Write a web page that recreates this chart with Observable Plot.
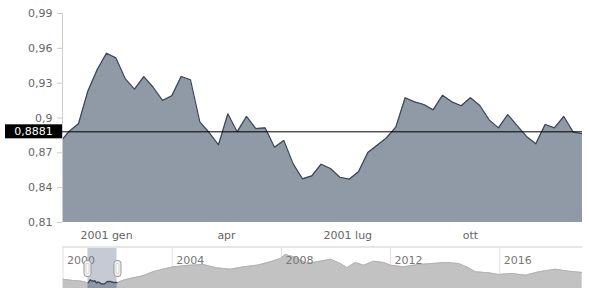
<!DOCTYPE html>
<html>
<head>
<meta charset="utf-8">
<script src="https://cdn.jsdelivr.net/npm/d3@7"></script>
<script src="https://cdn.jsdelivr.net/npm/@observablehq/plot@0.6"></script>
<style>
  html, body { margin: 0; padding: 0; background: #fff; }
  #chart svg { display: block; }
</style>
</head>
<body>
<div id="chart"></div>
<script>
// ---- Main series (weekly, EUR/USD style rate) ----
const mainStart = "2000-11-27";
const mainValues = [
  0.879, 0.8885, 0.8950, 0.9231, 0.9415, 0.9558, 0.9518, 0.9340, 0.9248, 0.9357,
  0.9265, 0.9151, 0.9191, 0.9357, 0.9329, 0.8967, 0.8875, 0.8769, 0.9036, 0.8881,
  0.9013, 0.8909, 0.8915, 0.8749, 0.8806, 0.8605, 0.8476, 0.8502, 0.8602, 0.8565,
  0.8490, 0.8473, 0.8537, 0.8703, 0.8766, 0.8829, 0.8921, 0.9174, 0.9139, 0.9116,
  0.9070, 0.9196, 0.9139, 0.9105, 0.9174, 0.9108, 0.8984, 0.8915, 0.9030, 0.8935,
  0.8841, 0.8778, 0.8944, 0.8915, 0.9013, 0.8878, 0.8864
];
const xDomain = ["2000-11-29", "2001-12-24"];
const yDomain = [0.81, 0.99];
const yTicks = [0.81, 0.84, 0.87, 0.90, 0.93, 0.96, 0.99];
const xTicks = ["2001-01-01", "2001-04-01", "2001-07-01", "2001-10-01"];
const xTickLabels = ["2001 gen", "apr", "2001 lug", "ott"];
const refValue = 0.8881;

// ---- Navigator series (long history) ----
const navBeforeDates = ["2000-01-03", "2000-03-15", "2000-05-15", "2000-07-15", "2000-09-05", "2000-11-01"];
const navBeforeValues = [0.9725, 0.955, 0.94, 0.935, 0.9225, 0.90];
const navAfterDates = [
  "2002-03-17", "2002-07-26", "2002-12-08", "2003-04-20", "2003-09-01", "2004-01-15",
  "2004-08-22", "2005-02-20", "2005-08-15", "2006-02-10", "2006-08-15", "2007-02-10",
  "2007-08-07", "2007-12-20", "2008-02-25", "2008-06-15", "2008-12-15", "2009-04-22",
  "2009-10-20", "2010-03-01", "2010-05-30", "2010-09-15", "2011-01-08", "2011-05-18",
  "2011-10-01", "2012-01-01", "2012-06-25", "2013-01-10", "2013-07-08", "2014-01-04",
  "2014-07-01", "2014-11-10", "2015-02-10", "2015-08-08", "2015-12-16", "2016-06-13",
  "2016-12-10", "2017-06-07", "2018-01-15", "2018-07-12", "2019-01-08"
];
const navAfterValues = [
  0.9475, 1.0075, 1.0575, 1.1575, 1.2225, 1.2825,
  1.3225, 1.34, 1.2575, 1.2225, 1.2825, 1.3225,
  1.4075, 1.49, 1.59, 1.5325, 1.365, 1.4075,
  1.4725, 1.365, 1.2575, 1.39, 1.3225, 1.4225,
  1.39, 1.3225, 1.2825, 1.34, 1.365, 1.39,
  1.365, 1.2575, 1.1575, 1.1325, 1.09, 1.115,
  1.0725, 1.1575, 1.2225, 1.1725, 1.14
];
const navYears = ["2000-01-01", "2004-01-01", "2008-01-01", "2012-01-01", "2016-01-01"];
const navXDomain = ["1999-12-25", "2019-01-12"];
const navYDomain = [0.74, 1.74];

// ---- Build tables ----
const parse = s => new Date(s + "T00:00:00Z");
const start = parse(mainStart);
const main = mainValues.map((v, i) => ({date: d3.utcDay.offset(start, 7 * i), value: v}));
const xDom = xDomain.map(parse);
const navData = [
  ...navBeforeDates.map((d, i) => ({date: parse(d), value: navBeforeValues[i]})),
  ...main,
  ...navAfterDates.map((d, i) => ({date: parse(d), value: navAfterValues[i]}))
];
const selected = main.filter(d => d.date >= xDom[0] && d.date <= xDom[1]);
const tickDates = xTicks.map(parse);
const tickLabelMap = new Map(tickDates.map((d, i) => [+d, xTickLabels[i]]));
const fmt = d => String(+d.toFixed(4)).replace(".", ",");

const font = "'DejaVu Sans', Verdana, sans-serif";
const textColor = "#666666";
const areaFill = "#9099a6";
const lineColor = "#3b4659";

const chart = Plot.plot({
  width: 589,
  height: 246,
  marginTop: 13,
  marginRight: 7,
  marginBottom: 24,
  marginLeft: 62,
  style: {fontFamily: font, fontSize: "11px", background: "#fff", overflow: "visible", color: textColor},
  x: {type: "utc", domain: xDom},
  y: {domain: yDomain},
  marks: [
    Plot.areaY(main, {x: "date", y: "value", fill: areaFill, clip: true}),
    Plot.lineY(main, {x: "date", y: "value", stroke: lineColor, strokeWidth: 1.2, clip: true}),
    Plot.ruleX([xDom[0]], {stroke: "#cccccc"}),
    Plot.axisY({ticks: yTicks, tickFormat: fmt, tickSize: 5, tickPadding: 5, stroke: "#cccccc", fill: textColor, fontSize: 11, label: null}),
    Plot.axisX({ticks: tickDates, tickFormat: d => tickLabelMap.get(+d), tickSize: 0, tickPadding: 9, fill: textColor, fontSize: 11, label: null}),
    Plot.ruleY([refValue], {stroke: "#000", strokeWidth: 1}),
    Plot.rect([refValue], {x1: () => xDom[0], x2: () => xDom[0], y1: d => d, y2: d => d,
      insetLeft: -57, insetTop: -7, insetBottom: -7, fill: "#000"}),
    Plot.text([refValue], {x: () => xDom[0], y: d => d, text: fmt, dx: -29, fill: "#fff",
      textAnchor: "middle", fontSize: 11})
  ]
});

const navX = navXDomain.map(parse);
const yearDates = navYears.map(parse);
const nav = Plot.plot({
  width: 589,
  height: 50,
  marginTop: 2,
  marginRight: 7,
  marginBottom: 8,
  marginLeft: 62,
  style: {fontFamily: font, fontSize: "11px", background: "#fff", overflow: "visible"},
  x: {type: "utc", domain: navX, axis: null},
  y: {domain: navYDomain, axis: null},
  marks: [
    Plot.ruleX(yearDates, {stroke: "#e0e0e0"}),
    Plot.areaY(navData, {x: "date", y: "value", fill: "#c2c2c2", clip: true}),
    Plot.lineY(navData, {x: "date", y: "value", stroke: "#b2b2b2", strokeWidth: 1, clip: true}),
    Plot.text(yearDates, {x: d => d, text: d => String(d.getUTCFullYear()), frameAnchor: "top",
      dy: 12, dx: 4, textAnchor: "start", lineAnchor: "middle", fill: "#777", fontSize: 11}),
    Plot.rect([xDom], {x1: d => d[0], x2: d => d[1], fill: "rgba(118,128,152,0.42)"}),
    Plot.areaY(selected, {x: "date", y: "value", fill: "#8e96a3", clip: true}),
    Plot.lineY(selected, {x: "date", y: "value", stroke: lineColor, strokeWidth: 1.2, clip: true})
  ]
});

// top outline of navigator and handles, positioned through Plot's scales
(function decorate() {
  const sx = nav.scale("x"), sy = nav.scale("y");
  const svg = d3.select(nav);
  const r = sx.range;
  const yTop = Math.min(...sy.range);
  svg.append("line")
    .attr("x1", r[0]).attr("x2", r[1]).attr("y1", yTop - 1).attr("y2", yTop - 1)
    .attr("stroke", "#e6e6e6").attr("stroke-width", 2);
  const cy = (sy.range[0] + sy.range[1]) / 2 + 0.5;
  for (const d of xDom) {
    const cx = Math.round(sx.apply(d)) + 0.5;
    const g = svg.append("g");
    g.append("rect").attr("x", cx - 3.5).attr("y", cy - 8).attr("width", 7).attr("height", 16)
      .attr("rx", 3).attr("fill", "#f2f2f2").attr("stroke", "#999").attr("stroke-width", 1);
    g.append("rect").attr("x", cx - 1.5).attr("y", cy - 5).attr("width", 3).attr("height", 10)
      .attr("rx", 1).attr("fill", "#fafafa").attr("stroke", "#cfcfcf").attr("stroke-width", 0.8);
  }
})();

document.getElementById("chart").append(chart, nav);
</script>
</body>
</html>
